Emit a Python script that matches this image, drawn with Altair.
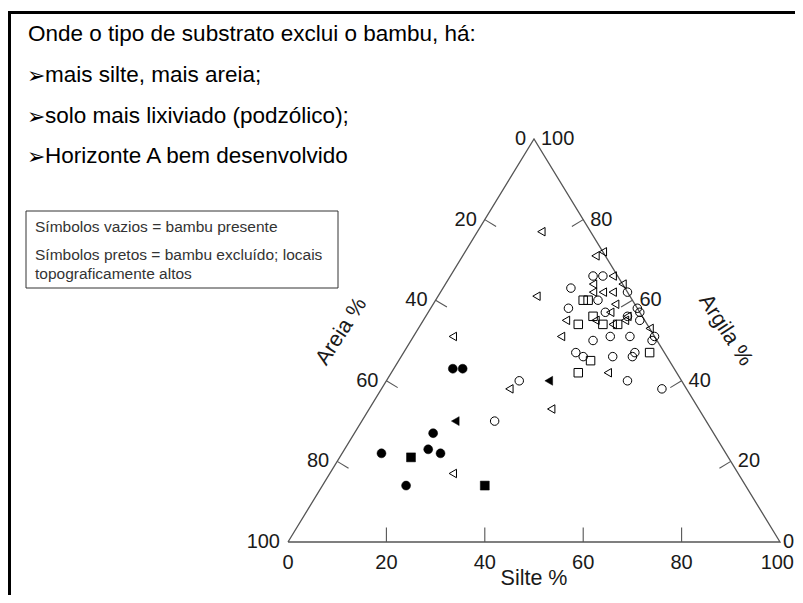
import altair as alt
import pandas as pd

# ---------------- data ----------------
# Open symbols = bambu presente
open_circle_silte = [29, 31, 26, 38, 33, 28, 36, 42, 43, 41, 44, 49, 49, 40, 44, 37, 35, 37, 43, 47, 47, 49, 57, 27, 27]
open_circle_argila = [66, 66, 63, 62, 60, 58, 57, 58, 57, 56, 55, 51, 50, 51, 51, 50, 47, 46, 46, 46, 47, 40, 38, 40, 30]
open_square_silte = [30, 31, 32, 34, 37, 40, 39, 50, 38]
open_square_argila = [60, 60, 54, 56, 54, 54, 45, 47, 42]
open_tri_silte = [13, 20, 27, 28, 33, 36, 30, 31, 33, 35, 37, 37, 29, 35, 39, 41, 47, 30, 44, 8, 26, 37, 25, 41]
open_tri_argila = [77, 61, 71, 72, 66, 64, 64, 62, 62, 62, 59, 57, 55, 55, 54, 55, 53, 51, 42, 51, 38, 33, 17, 56]
# Filled symbols = bambu excluido
filled_circle_silte = [12, 14, 16, 17, 20, 8, 17]
filled_circle_argila = [43, 43, 27, 23, 22, 22, 14]
filled_square_silte = [14.5, 33]
filled_square_argila = [21, 14]
filled_tri_silte = [19, 33]
filled_tri_argila = [30, 40]

tick_values = [20, 40, 60, 80]
label_values = [0, 20, 40, 60, 80, 100]

header_title = "Onde o tipo de substrato exclui o bambu, há:"
header_bullets = ["mais silte, mais areia;", "solo mais lixiviado (podzólico);", "Horizonte A bem desenvolvido"]
legend_lines = ["Símbolos vazios = bambu presente",
                "Símbolos pretos = bambu excluído; locais",
                "topograficamente altos"]

# ---------------- build tables ----------------
rows = []
for status, sym, sl, al in [
    ("open", "circle", open_circle_silte, open_circle_argila),
    ("open", "square", open_square_silte, open_square_argila),
    ("open", "triangle", open_tri_silte, open_tri_argila),
    ("filled", "circle", filled_circle_silte, filled_circle_argila),
    ("filled", "square", filled_square_silte, filled_square_argila),
    ("filled", "triangle", filled_tri_silte, filled_tri_argila),
]:
    for s, a in zip(sl, al):
        rows.append({"status": status, "sym": sym, "silte": s, "argila": a, "areia": 100 - s - a})
pts = pd.DataFrame(rows)

FONT = "Liberation Sans"
XS = alt.Scale(domain=[0, 100], range=[280, 772], nice=False, zero=False)
YS = alt.Scale(domain=[0, 100], range=[534, 131], nice=False, zero=False)


def X(f):
    return alt.X(f, type="quantitative", scale=XS, axis=None)


def Y(f):
    return alt.Y(f, type="quantitative", scale=YS, axis=None)


shape_enc = alt.Shape("sym:N", scale=alt.Scale(domain=["circle", "square", "triangle"],
                                               range=["circle", "square", "triangle-left"]), legend=None)

pts_base = alt.Chart(pts).transform_calculate(
    PX="datum.silte + datum.argila / 2", PY="datum.argila")

open_pts = pts_base.transform_filter("datum.status == 'open'").mark_point(
    filled=False, stroke="black", strokeWidth=1, size=72, opacity=1
).encode(x=X("PX"), y=Y("PY"), shape=shape_enc)

filled_pts = pts_base.transform_filter("datum.status == 'filled'").mark_point(
    filled=True, fill="black", stroke="black", strokeWidth=0.5, size=80, opacity=1
).encode(x=X("PX"), y=Y("PY"), shape=shape_enc)

# triangle frame
corners = pd.DataFrame({"X": [0, 100, 50, 0], "Y": [0, 0, 100, 0], "o": [0, 1, 2, 3]})
outline = alt.Chart(corners).mark_line(color="#555555", strokeWidth=1.3).encode(
    x=X("X"), y=Y("Y"), order="o:O")

# ticks (perpendicular to each side, pointing inward)
trows = []
for v in tick_values:
    trows.append({"x": v, "y": 0, "x2": v, "y2": 3.6})                      # silte (bottom)
    g = 100 - v
    trows.append({"x": g / 2, "y": g, "x2": g / 2 + 2.3, "y2": g - 1.7})     # areia (left)
    trows.append({"x": 100 - v / 2, "y": v, "x2": 100 - v / 2 - 2.3, "y2": v - 1.7})  # argila (right)
ticks = alt.Chart(pd.DataFrame(trows)).mark_rule(color="#555555", strokeWidth=1.1).encode(
    x=X("x"), y=Y("y"), x2="x2:Q", y2="y2:Q")

# tick labels
left_lab = pd.DataFrame({"X": [(100 - v) / 2 for v in label_values],
                         "Y": [100 - v for v in label_values],
                         "t": [str(v) for v in label_values]})
right_lab = pd.DataFrame({"X": [100 - v / 2 for v in label_values],
                          "Y": label_values,
                          "t": [str(v) for v in label_values]})
bottom_lab = pd.DataFrame({"X": label_values, "Y": [0] * len(label_values),
                           "t": [str(v) for v in label_values]})

lab_style = dict(font=FONT, fontSize=20, color="#1a1a1a", baseline="middle")
left_text = alt.Chart(left_lab).mark_text(align="right", dx=-8, **lab_style).encode(
    x=X("X"), y=Y("Y"), text="t:N")
right_text = alt.Chart(right_lab[right_lab["Y"] > 0]).mark_text(align="left", dx=7, **lab_style).encode(
    x=X("X"), y=Y("Y"), text="t:N")
right_zero = alt.Chart(right_lab[right_lab["Y"] == 0]).mark_text(align="left", dx=3, **lab_style).encode(
    x=X("X"), y=Y("Y"), text="t:N")
bottom_text = alt.Chart(bottom_lab[bottom_lab["X"] < 100]).mark_text(align="center", dy=21, **lab_style).encode(
    x=X("X"), y=Y("Y"), text="t:N")
bottom_last = alt.Chart(bottom_lab[bottom_lab["X"] == 100]).mark_text(align="right", dy=21, dx=14, **lab_style).encode(
    x=X("X"), y=Y("Y"), text="t:N")

# axis titles
titles = pd.DataFrame({"X": [50, 10.9, 88.9], "Y": [-9.2, 52.2, 52.5],
                       "t": ["Silte %", "Areia %", "Argila %"], "ang": [0, 303, 57]})
title_layers = []
for i in range(3):
    title_layers.append(
        alt.Chart(titles.iloc[[i]]).mark_text(font=FONT, fontSize=21.5, color="#1a1a1a",
                                              align="center", baseline="middle",
                                              angle=int(titles["ang"].iloc[i])).encode(
            x=X("X"), y=Y("Y"), text="t:N"))

# header text (page layout)
header_layers = [
    alt.Chart(pd.DataFrame({"t": [header_title]})).mark_text(
        font=FONT, fontSize=22.5, color="black", align="left", baseline="middle").encode(
        x=alt.value(20), y=alt.value(26), text="t:N")
]
for i, line in enumerate(header_bullets):
    yv = 67 + i * 40.7
    header_layers.append(alt.Chart(pd.DataFrame({"t": ["➢"]})).mark_text(
        font="DejaVu Sans", fontSize=22, color="black", align="left", baseline="middle").encode(
        x=alt.value(19), y=alt.value(yv + 1), text="t:N"))
    header_layers.append(alt.Chart(pd.DataFrame({"t": [line]})).mark_text(
        font=FONT, fontSize=22.5, color="black", align="left", baseline="middle").encode(
        x=alt.value(37), y=alt.value(yv), text="t:N"))

# legend box
box = alt.Chart(pd.DataFrame({"a": [0]})).mark_rect(
    fill="white", stroke="#333333", strokeWidth=1).encode(
    x=alt.value(18), x2=alt.value(330), y=alt.value(203), y2=alt.value(280))
legend_layers = [box]
for t, yv in zip(legend_lines, [219, 247, 266]):
    legend_layers.append(alt.Chart(pd.DataFrame({"t": [t]})).mark_text(
        font=FONT, fontSize=15.5, color="#333333", align="left", baseline="middle").encode(
        x=alt.value(27), y=alt.value(yv), text="t:N"))

# outer frame lines
frame_left = alt.Chart(pd.DataFrame({"a": [0]})).mark_rule(color="black", strokeWidth=3).encode(
    x=alt.value(1.5), y=alt.value(3), y2=alt.value(600))
frame_top = alt.Chart(pd.DataFrame({"a": [0]})).mark_rule(color="black", strokeWidth=3).encode(
    x=alt.value(0), x2=alt.value(800), y=alt.value(4.5))

chart = alt.layer(
    frame_left, frame_top, *header_layers, *legend_layers,
    outline, ticks, left_text, right_text, right_zero, bottom_text, bottom_last, *title_layers,
    open_pts, filled_pts
).properties(
    width=787, height=587, autosize=alt.AutoSizeParams(type="none"), padding=0,
    background="white"
).configure_view(strokeWidth=0)

chart.save("out.html", embed_options={"renderer": "svg", "actions": False})
